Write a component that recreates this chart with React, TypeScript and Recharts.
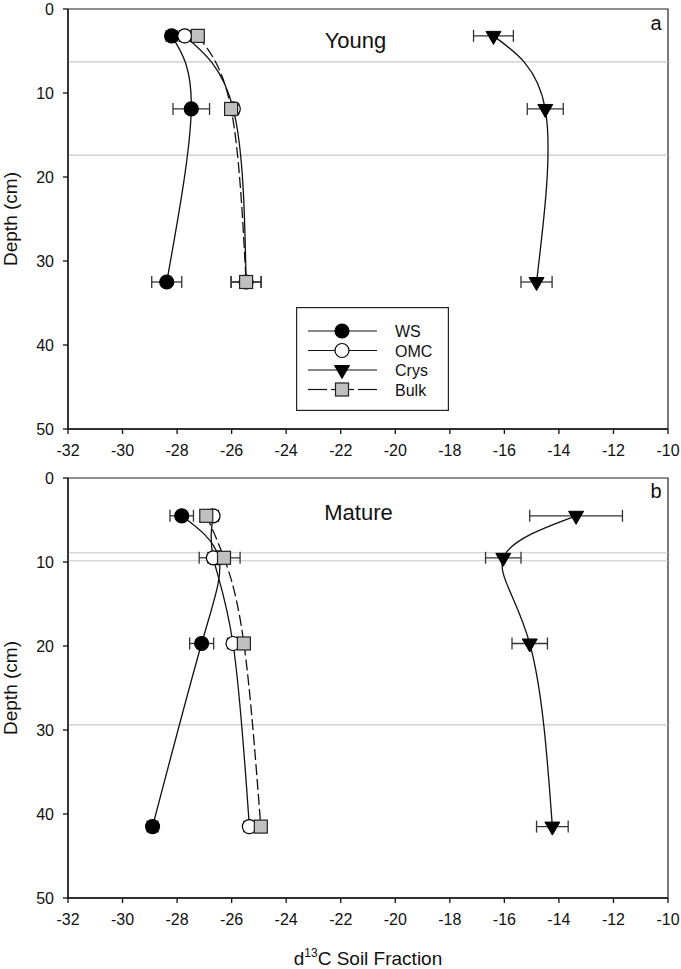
import React from 'react';
import {
  ComposedChart,
  Line,
  XAxis,
  YAxis,
  ErrorBar,
  ReferenceLine,
  ReferenceArea,
  Legend,
  Label,
} from 'recharts';

const FONT = '"Liberation Sans", Arial, Helvetica, sans-serif';

const xTicks = [-32, -30, -28, -26, -24, -22, -20, -18, -16, -14, -12, -10];
const yTicks = [0, 10, 20, 30, 40, 50];

// panel a - young stand
const youngDepth = [3.2, 11.9, 32.5];
const youngWS = [-28.2, -27.48, -28.38];
const youngWSErr = [0.2, 0.67, 0.55];
const youngOMC = [-27.72, -25.94, -25.47];
const youngOMCErr = [0.2, 0.2, 0.55];
const youngCrys = [-16.4, -14.5, -14.82];
const youngCrysErr = [0.73, 0.66, 0.57];
const youngBulk = [-27.24, -26.02, -25.47];
const youngBulkErr = [0.2, 0.2, 0.55];
const youngHorizons = [6.3, 17.4];

// panel b - mature stand
const matureDepth = [4.5, 9.5, 19.7, 41.5];
const matureWS = [-27.83, -26.47, -27.1, -28.9];
const matureWSErr = [0.43, 0.2, 0.44, 0.2];
const matureOMC = [-26.68, -26.67, -25.95, -25.35];
const matureOMCErr = [0.2, 0.52, 0.2, 0.2];
const matureCrys = [-13.37, -16.04, -15.07, -14.24];
const matureCrysErr = [1.7, 0.65, 0.65, 0.58];
const matureBulk = [-26.93, -26.28, -25.55, -24.93];
const matureBulkErr = [0.2, 0.59, 0.2, 0.2];
const matureHorizons = [8.9, 9.85, 29.4];

const legendItems = ['WS', 'OMC', 'Crys', 'Bulk'];

function buildRows(depth, ws, wsErr, omc, omcErr, crys, crysErr, bulk, bulkErr) {
  return depth.map((d, i) => ({
    depth: d,
    ws: ws[i],
    wsErr: wsErr[i],
    omc: omc[i],
    omcErr: omcErr[i],
    crys: crys[i],
    crysErr: crysErr[i],
    bulk: bulk[i],
    bulkErr: bulkErr[i],
  }));
}

const youngRows = buildRows(youngDepth, youngWS, youngWSErr, youngOMC, youngOMCErr, youngCrys, youngCrysErr, youngBulk, youngBulkErr);
const matureRows = buildRows(matureDepth, matureWS, matureWSErr, matureOMC, matureOMCErr, matureCrys, matureCrysErr, matureBulk, matureBulkErr);

// marker shapes
const Circle = ({ cx, cy, fill }) => (
  <circle cx={cx} cy={cy} r={7} fill={fill} stroke="#000" strokeWidth={1.2} />
);
const Triangle = ({ cx, cy }) => (
  <path d={`M${cx - 7.5},${cy - 4.5} L${cx + 7.5},${cy - 4.5} L${cx},${cy + 8.5} Z`} fill="#000" stroke="#000" strokeWidth={1} />
);
const Square = ({ cx, cy }) => (
  <rect x={cx - 6.5} y={cy - 6.5} width={13} height={13} fill="#c0c0c0" stroke="#222" strokeWidth={1.2} />
);

const dotFor = (kind) => (props) => {
  const { cx, cy, index } = props;
  if (cx == null || cy == null) return null;
  const key = `${kind}-${index}`;
  if (kind === 'ws') return <Circle key={key} cx={cx} cy={cy} fill="#000" />;
  if (kind === 'omc') return <Circle key={key} cx={cx} cy={cy} fill="#fff" />;
  if (kind === 'crys') return <Triangle key={key} cx={cx} cy={cy} />;
  return <Square key={key} cx={cx} cy={cy} />;
};

const LegendBox = () => {
  const rowY = [24, 43.5, 63, 82.5];
  return (
    <svg width={153} height={104} style={{ display: 'block' }}>
      <rect x={0.6} y={0.6} width={151.8} height={102.8} fill="#fff" stroke="#222" strokeWidth={1.2} />
      {legendItems.map((name, i) => {
        const y = rowY[i];
        return (
          <g key={name}>
            {name === 'Bulk' ? (
              <g stroke="#111" strokeWidth={1.2}>
                <line x1={12} y1={y} x2={31} y2={y} />
                <line x1={35} y1={y} x2={58} y2={y} />
                <line x1={62} y1={y} x2={81} y2={y} />
              </g>
            ) : (
              <line x1={12} y1={y} x2={81} y2={y} stroke="#111" strokeWidth={1.2} />
            )}
            {i === 0 && <Circle cx={46} cy={y} fill="#000" />}
            {i === 1 && <Circle cx={46} cy={y} fill="#fff" />}
            {i === 2 && <Triangle cx={46} cy={y} />}
            {i === 3 && <Square cx={46} cy={y} />}
            <text x={99} y={y + 6} fontSize={16} fontFamily={FONT} fill="#111">{name}</text>
          </g>
        );
      })}
    </svg>
  );
};

const depthLabel = (props) => {
  const vb = props.viewBox || { y: 0, height: 0 };
  const cy = vb.y + vb.height / 2;
  return (
    <text x={17} y={cy} transform={`rotate(-90, 17, ${cy})`} textAnchor="middle" fontSize={19} fontFamily={FONT} fill="#111">
      Depth (cm)
    </text>
  );
};

const xTitle = (props) => {
  const vb = props.viewBox || { x: 0, y: 0, width: 0 };
  const cx = vb.x + vb.width / 2;
  return (
    <text x={cx} y={vb.y + 67} textAnchor="middle" fontSize={19} fontFamily={FONT} fill="#111">
      <tspan>d</tspan>
      <tspan fontSize={12} dy={-8}>13</tspan>
      <tspan dy={8}>C Soil Fraction</tspan>
    </text>
  );
};

const axisStroke = { stroke: '#111', strokeWidth: 1.3 };
const tickStyle = { fill: '#111', fontSize: 16, fontFamily: FONT };

function Panel({ rows, horizons, width, height, margin, xAxisHeight, showLegend, showXTitle }) {
  return (
    <ComposedChart layout="vertical" width={width} height={height} data={rows} margin={margin}>
      <XAxis
        type="number"
        domain={[-32, -10]}
        ticks={xTicks}
        interval={0}
        allowDataOverflow
        height={xAxisHeight}
        tickSize={5}
        tickMargin={11}
        axisLine={axisStroke}
        tickLine={axisStroke}
        tick={tickStyle}
      >
        {showXTitle && <Label content={xTitle} />}
      </XAxis>
      <YAxis
        type="number"
        dataKey="depth"
        domain={[0, 50]}
        ticks={yTicks}
        interval={0}
        allowDataOverflow
        width={60}
        tickSize={5}
        tickMargin={9}
        axisLine={axisStroke}
        tickLine={axisStroke}
        tick={tickStyle}
      >
        <Label content={depthLabel} />
      </YAxis>
      <ReferenceArea x1={-32} x2={-10} y1={0} y2={50} fill="none" stroke="#222" strokeWidth={1.2} />
      {horizons.map((h) => (
        <ReferenceLine key={h} y={h} stroke="#c8c8c8" strokeWidth={1.2} />
      ))}
      <Line dataKey="ws" type="natural" stroke="#111" strokeWidth={1.3} dot={dotFor('ws')} activeDot={false} isAnimationActive={false}>
        <ErrorBar dataKey="wsErr" direction="x" width={6} stroke="#333" strokeWidth={1.3} />
      </Line>
      <Line dataKey="omc" type="natural" stroke="#111" strokeWidth={1.3} dot={dotFor('omc')} activeDot={false} isAnimationActive={false}>
        <ErrorBar dataKey="omcErr" direction="x" width={6} stroke="#333" strokeWidth={1.3} />
      </Line>
      <Line dataKey="crys" type="natural" stroke="#111" strokeWidth={1.3} dot={dotFor('crys')} activeDot={false} isAnimationActive={false}>
        <ErrorBar dataKey="crysErr" direction="x" width={6} stroke="#333" strokeWidth={1.3} />
      </Line>
      <Line dataKey="bulk" type="natural" stroke="#111" strokeWidth={1.3} strokeDasharray="11 4" dot={dotFor('bulk')} activeDot={false} isAnimationActive={false}>
        <ErrorBar dataKey="bulkErr" direction="x" width={6} stroke="#333" strokeWidth={1.3} />
      </Line>
      {showLegend && (
        <Legend
          layout="horizontal"
          verticalAlign="middle"
          align="center"
          wrapperStyle={{ position: 'absolute', left: 296, top: 307, width: 153, height: 104 }}
          content={() => <LegendBox />}
        />
      )}
    </ComposedChart>
  );
}

export default function App() {
  return (
    <div style={{ position: 'absolute', left: 0, top: 0, width: 681, height: 969, background: '#fff', fontFamily: FONT }}>
      <div style={{ position: 'absolute', left: 0, top: 0 }}>
        <Panel
          rows={youngRows}
          horizons={youngHorizons}
          width={681}
          height={460}
          margin={{ top: 9, right: 13, bottom: 1, left: 8 }}
          xAxisHeight={30}
          showLegend
          showXTitle={false}
        />
      </div>
      <div style={{ position: 'absolute', left: 0, top: 460 }}>
        <Panel
          rows={matureRows}
          horizons={matureHorizons}
          width={681}
          height={509}
          margin={{ top: 18, right: 13, bottom: 1, left: 8 }}
          xAxisHeight={70}
          showLegend={false}
          showXTitle
        />
      </div>
      <svg width={681} height={969} style={{ position: 'absolute', left: 0, top: 0, pointerEvents: 'none' }}>
        <text x={355.5} y={48} textAnchor="middle" fontSize={22} fontFamily={FONT} fill="#111">Young</text>
        <text x={358.5} y={520} textAnchor="middle" fontSize={22} fontFamily={FONT} fill="#111">Mature</text>
        <text x={656} y={30} textAnchor="middle" fontSize={20} fontFamily={FONT} fill="#111">a</text>
        <text x={656} y={498} textAnchor="middle" fontSize={20} fontFamily={FONT} fill="#111">b</text>
      </svg>
    </div>
  );
}
